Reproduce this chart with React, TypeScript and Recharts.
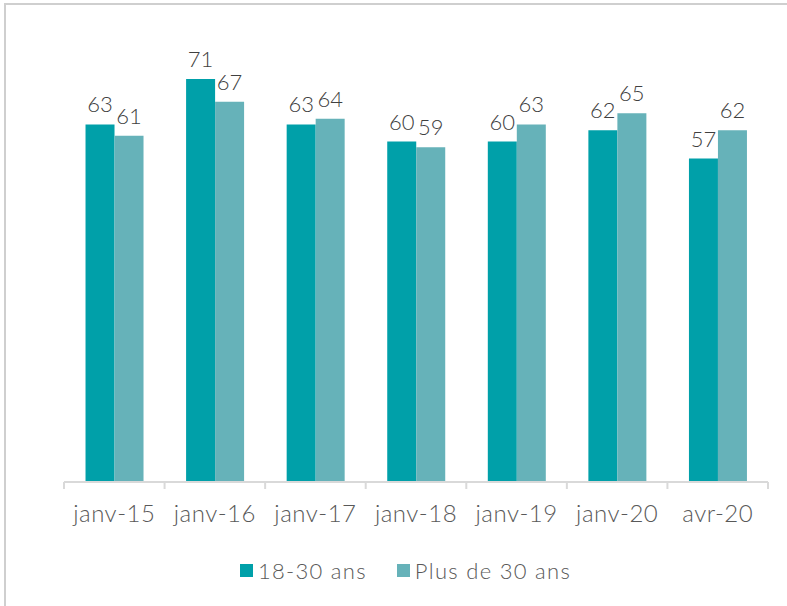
import React from 'react';
import { BarChart, Bar, XAxis, YAxis, Legend, LabelList } from 'recharts';

const categories = ['janv-15', 'janv-16', 'janv-17', 'janv-18', 'janv-19', 'janv-20', 'avr-20'];
const young = [63, 71, 63, 60, 60, 62, 57];
const older = [61, 67, 64, 59, 63, 65, 62];

const SERIES = [
  { key: 'young', label: '18-30 ans', color: '#00A0A9' },
  { key: 'older', label: 'Plus de 30 ans', color: '#66B2B9' },
];

const FONT = 'Lato, "Open Sans", sans-serif';
const AXIS_COLOR = '#D9D9D9';

const data = categories.map((c, i) => ({ name: c, young: young[i], older: older[i] }));

const CategoryTick = (props: any) => {
  const { x, y, payload, index } = props;
  const half = payload?.offset ?? 50;
  const last = index === categories.length - 1;
  return (
    <g>
      <line x1={x - half} x2={x - half} y1={y} y2={y + 7} stroke={AXIS_COLOR} strokeWidth={2} />
      {last && <line x1={x + half} x2={x + half} y1={y} y2={y + 7} stroke={AXIS_COLOR} strokeWidth={2} />}
      <text x={x} y={y + 40} textAnchor="middle" fill="#595959" fontSize={24} fontWeight={300} fontFamily={FONT} letterSpacing={0.5}>
        {payload.value}
      </text>
    </g>
  );
};

const LegendContent = () => (
  <div style={{ display: 'flex', justifyContent: 'center', gap: 30, paddingLeft: 24, fontFamily: FONT, fontWeight: 300, fontSize: 22, color: '#595959', letterSpacing: 1.3 }}>
    {SERIES.map(s => (
      <span key={s.key} style={{ display: 'flex', alignItems: 'center', gap: 5 }}>
        <span style={{ width: 13, height: 13, background: s.color, display: 'inline-block' }} />
        <span>{s.label}</span>
      </span>
    ))}
  </div>
);

export default function App() {
  return (
    <div style={{ position: 'fixed', left: 0, top: 0, width: 787, height: 606, background: '#fff' }}>
      <div style={{ position: 'absolute', left: 4, top: 3, width: 820, height: 640, border: '2px solid #CFCFCF' }} />
      <BarChart
        width={787}
        height={606}
        data={data}
        margin={{ top: 28, right: 19, left: 64, bottom: 64 }}
        barCategoryGap="21.4%"
        barGap={0}
      >
        <XAxis
          dataKey="name"
          height={60}
          axisLine={{ stroke: AXIS_COLOR, strokeWidth: 2 }}
          tickLine={false}
          tickSize={0}
          tickMargin={0}
          interval={0}
          tick={<CategoryTick />}
        />
        <YAxis hide domain={[0, 80]} />
        <Legend
          layout="horizontal"
          verticalAlign="middle"
          align="center"
          wrapperStyle={{ top: 557, left: 0, width: 787 }}
          content={<LegendContent />}
        />
        {SERIES.map(s => (
          <Bar key={s.key} dataKey={s.key} name={s.label} fill={s.color} isAnimationActive={false}>
            <LabelList dataKey={s.key} position="top" offset={12} fill="#404040" fontSize={22} fontWeight={300} fontFamily={FONT} />
          </Bar>
        ))}
      </BarChart>
    </div>
  );
}
